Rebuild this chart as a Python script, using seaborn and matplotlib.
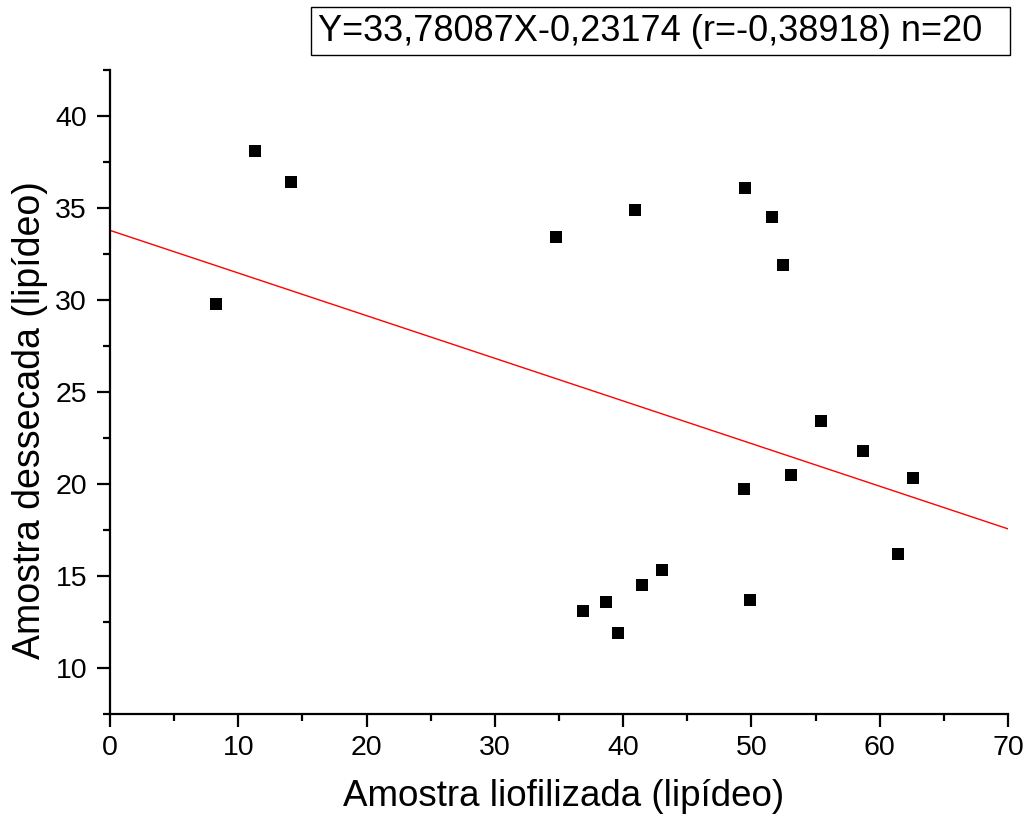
import matplotlib
matplotlib.use("Agg")
import matplotlib.pyplot as plt
import numpy as np
import pandas as pd
import seaborn as sns
from matplotlib.patches import Rectangle
from matplotlib.ticker import MultipleLocator

# data
liofilizada = [8.3, 11.3, 14.1, 34.8, 40.9, 49.5, 51.6, 52.5, 55.4, 58.7,
               62.6, 53.1, 49.4, 61.4, 49.9, 43.0, 41.5, 38.7, 36.9, 39.6]
dessecada = [29.8, 38.1, 36.4, 33.4, 34.9, 36.1, 34.5, 31.9, 23.4, 21.8,
             20.3, 20.5, 19.7, 16.2, 13.7, 15.3, 14.5, 13.6, 13.1, 11.9]
intercept = 33.78087
slope = -0.23174
r_value = -0.38918
x_ticks = [0, 10, 20, 30, 40, 50, 60, 70]
y_ticks = [10, 15, 20, 25, 30, 35, 40]

df = pd.DataFrame({"x": liofilizada, "y": dessecada})
fit_x = np.array([x_ticks[0], x_ticks[-1]])
fit = pd.DataFrame({"x": fit_x, "y": intercept + slope * fit_x})

sns.set_style("ticks")
plt.rcParams["font.family"] = ["Liberation Sans", "DejaVu Sans"]
plt.rcParams.update({
    "text.color": "black",
    "axes.labelcolor": "black",
    "xtick.color": "black",
    "ytick.color": "black",
})

W, H = 1027, 823
fig = plt.figure(figsize=(W / 100, H / 100), dpi=100)
ax = fig.add_axes([0.1071, 0.1325, 0.8744, 0.7825])

sns.lineplot(data=fit, x="x", y="y", color="red", linewidth=1.0, ax=ax)
sns.scatterplot(data=df, x="x", y="y", marker="s", s=78, color="black",
                linewidth=0, ax=ax, zorder=3)

ax.set_xlim(0, 70)
ax.set_ylim(7.5, 42.5)
ax.set_xticks(x_ticks)
ax.set_yticks(y_ticks)
ax.xaxis.set_minor_locator(MultipleLocator(5))
ax.yaxis.set_minor_locator(MultipleLocator(2.5))
ax.tick_params(which="major", length=9.5, width=1.6, labelsize=20.5)
ax.tick_params(which="minor", length=5, width=1.6)
ax.tick_params(axis="x", pad=6)
ax.tick_params(axis="y", pad=7)
sns.despine(ax=ax)
for side in ["left", "bottom"]:
    ax.spines[side].set_linewidth(1.6)
    ax.spines[side].set_color("black")

ax.set_xlabel("Amostra liofilizada (lipídeo)", fontsize=26.5, va="center")
ax.set_ylabel("Amostra dessecada (lipídeo)", fontsize=27, va="center")
ax.xaxis.set_label_coords(564 / W, 1 - 797 / H, transform=fig.transFigure)
ax.yaxis.set_label_coords(30 / W, 1 - 420 / H, transform=fig.transFigure)

# equation box at the top
fig.patches.append(Rectangle((311 / W, 1 - 55 / H), 699 / W, 48 / H,
                             transform=fig.transFigure, facecolor="white",
                             edgecolor="black", linewidth=1.0))
label = f"Y={intercept:.5f}X{slope:.5f} (r={r_value:.5f}) n={len(df)}".replace(".", ",")
fig.text(318 / W, 0.962, label, fontsize=26, ha="left", va="center")

fig.savefig("out.png", dpi=100)
